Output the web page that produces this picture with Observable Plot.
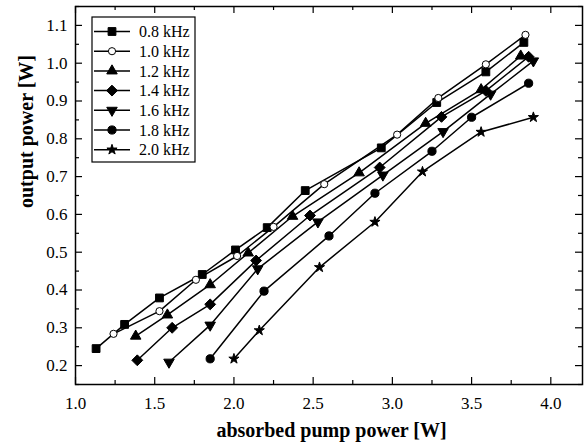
<!DOCTYPE html>
<html>
<head>
<meta charset="utf-8">
<script src="https://cdn.jsdelivr.net/npm/d3@7"></script>
<script src="https://cdn.jsdelivr.net/npm/@observablehq/plot@0.6"></script>
<style>
  html, body { margin: 0; padding: 0; background: #fff; }
  #chart svg { display: block; }
</style>
</head>
<body>
<div id="chart"></div>
<script>
// ---- data ----
const seriesLabels = ["0.8 kHz", "1.0 kHz", "1.2 kHz", "1.4 kHz", "1.6 kHz", "1.8 kHz", "2.0 kHz"];
const s08 = [[1.13,0.245],[1.31,0.309],[1.53,0.379],[1.80,0.441],[2.01,0.506],[2.21,0.565],[2.45,0.663],[2.93,0.776],[3.28,0.896],[3.59,0.977],[3.83,1.055]];
const s10 = [[1.24,0.284],[1.53,0.344],[1.76,0.427],[2.02,0.490],[2.25,0.567],[2.57,0.680],[3.03,0.811],[3.29,0.908],[3.59,0.997],[3.84,1.075]];
const s12 = [[1.38,0.278],[1.58,0.334],[1.85,0.414],[2.09,0.498],[2.37,0.595],[2.79,0.710],[3.21,0.841],[3.56,0.930],[3.81,1.019]];
const s14 = [[1.39,0.214],[1.61,0.300],[1.85,0.362],[2.14,0.478],[2.48,0.597],[2.92,0.724],[3.31,0.858],[3.59,0.927],[3.86,1.017]];
const s16 = [[1.59,0.209],[1.85,0.307],[2.15,0.456],[2.53,0.580],[2.94,0.704],[3.32,0.819],[3.62,0.918],[3.89,1.006]];
const s18 = [[1.85,0.218],[2.19,0.397],[2.60,0.543],[2.89,0.656],[3.25,0.767],[3.50,0.857],[3.86,0.947]];
const s20 = [[2.00,0.218],[2.16,0.293],[2.54,0.460],[2.89,0.580],[3.19,0.713],[3.56,0.818],[3.89,0.857]];
const xTicks = [1.0, 1.5, 2.0, 2.5, 3.0, 3.5, 4.0];
const xMinor = [1.25, 1.75, 2.25, 2.75, 3.25, 3.75];
const yTicks = [0.2, 0.3, 0.4, 0.5, 0.6, 0.7, 0.8, 0.9, 1.0, 1.1];
const yMinor = [0.15, 0.25, 0.35, 0.45, 0.55, 0.65, 0.75, 0.85, 0.95, 1.05, 1.15];
const xLabel = "absorbed pump power [W]";
const yLabel = "output power [W]";

// ---- symbols ----
const triDown = {
  draw(ctx, size) {
    const s3 = Math.sqrt(3);
    const y = Math.sqrt(size / (s3 * 3));
    ctx.moveTo(0, y * 2);
    ctx.lineTo(-s3 * y, -y);
    ctx.lineTo(s3 * y, -y);
    ctx.closePath();
  }
};
const styles = [
  {symbol: d3.symbolSquare, r: 4.4, fill: "black"},
  {symbol: d3.symbolCircle, r: 3.6, fill: "white"},
  {symbol: d3.symbolTriangle, r: 3.9, fill: "black"},
  {symbol: d3.symbolDiamond2, r: 4.9, fill: "black"},
  {symbol: triDown, r: 3.9, fill: "black"},
  {symbol: d3.symbolCircle, r: 4.1, fill: "black"},
  {symbol: d3.symbolStar, r: 3.2, fill: "black"}
];
const seriesData = [s08, s10, s12, s14, s16, s18, s20];

const W = 588, H = 445;
const mL = 75, mR = 6, mT = 6, mB = 61;
const fw = W - mL - mR, fh = H - mT - mB;
const serif = "Liberation Serif";

const marks = [];
// tick marks (inward, all four sides)
const maj = 7, mnr = 4;
marks.push(Plot.ruleX(xTicks, {insetTop: fh - maj, stroke: "black", strokeWidth: 1.2}));
marks.push(Plot.ruleX(xTicks, {insetBottom: fh - maj, stroke: "black", strokeWidth: 1.2}));
marks.push(Plot.ruleX(xMinor, {insetTop: fh - mnr, stroke: "black", strokeWidth: 1.2}));
marks.push(Plot.ruleX(xMinor, {insetBottom: fh - mnr, stroke: "black", strokeWidth: 1.2}));
marks.push(Plot.ruleY(yTicks, {insetRight: fw - maj, stroke: "black", strokeWidth: 1.2}));
marks.push(Plot.ruleY(yTicks, {insetLeft: fw - maj, stroke: "black", strokeWidth: 1.2}));
marks.push(Plot.ruleY(yMinor, {insetRight: fw - mnr, stroke: "black", strokeWidth: 1.2}));
marks.push(Plot.ruleY(yMinor, {insetLeft: fw - mnr, stroke: "black", strokeWidth: 1.2}));
// tick labels
marks.push(Plot.axisX(xTicks, {anchor: "bottom", tickSize: 0, tickPadding: 12, tickFormat: d3.format(".1f"), fontSize: 17, fontFamily: serif, label: null}));
marks.push(Plot.axisY(yTicks, {anchor: "left", tickSize: 0, tickPadding: 8, tickFormat: d3.format(".1f"), fontSize: 17, fontFamily: serif, label: null}));
// axis titles
marks.push(Plot.text([xLabel], {text: d => d, frameAnchor: "bottom", dy: 46, dx: 2.5, lineAnchor: "middle", fontSize: 20, fontWeight: "bold", fontFamily: serif, fill: "black"}));
marks.push(Plot.text([yLabel], {text: d => d, frameAnchor: "left", dx: -49, dy: 12.5, rotate: -90, lineAnchor: "middle", fontSize: 20, fontWeight: "bold", fontFamily: serif, fill: "black"}));
// series
seriesData.forEach((s, i) => {
  marks.push(Plot.line(s, {x: d => d[0], y: d => d[1], stroke: "black", strokeWidth: 1.5}));
});
seriesData.forEach((s, i) => {
  const st = styles[i];
  marks.push(Plot.dot(s, {x: d => d[0], y: d => d[1], symbol: () => st.symbol, r: st.r, fill: st.fill, stroke: "black", strokeWidth: 1}));
});
marks.push(Plot.frame({stroke: "black", strokeWidth: 1.5}));

const chart = Plot.plot({
  width: W, height: H,
  marginLeft: mL, marginRight: mR, marginTop: mT, marginBottom: mB,
  style: {fontFamily: serif, color: "black", background: "white"},
  x: {domain: [1.0, 4.2], axis: null},
  y: {domain: [0.15, 1.15], axis: null},
  symbol: {type: "identity"},
  marks
});
document.getElementById("chart").appendChild(chart);

// ---- legend ----
const svg = d3.select(chart);
const lg = svg.append("g").attr("font-family", serif).attr("font-size", 16).attr("text-anchor", "start");
lg.append("rect").attr("x", 92).attr("y", 17).attr("width", 103).attr("height", 145)
  .attr("fill", "white").attr("stroke", "black").attr("stroke-width", 1.2);
seriesLabels.forEach((lab, i) => {
  const y = 31.5 + i * 19.7;
  lg.append("line").attr("x1", 94).attr("x2", 130).attr("y1", y).attr("y2", y)
    .attr("stroke", "black").attr("stroke-width", 1.5);
  const st = styles[i];
  lg.append("path").attr("transform", `translate(112,${y})`)
    .attr("d", d3.symbol(st.symbol, Math.PI * st.r * st.r)())
    .attr("fill", st.fill).attr("stroke", "black").attr("stroke-width", 1);
  lg.append("text").attr("x", 139).attr("y", y).attr("dy", "0.35em")
    .attr("text-anchor", "start").attr("fill", "black").text(lab);
});
</script>
</body>
</html>
